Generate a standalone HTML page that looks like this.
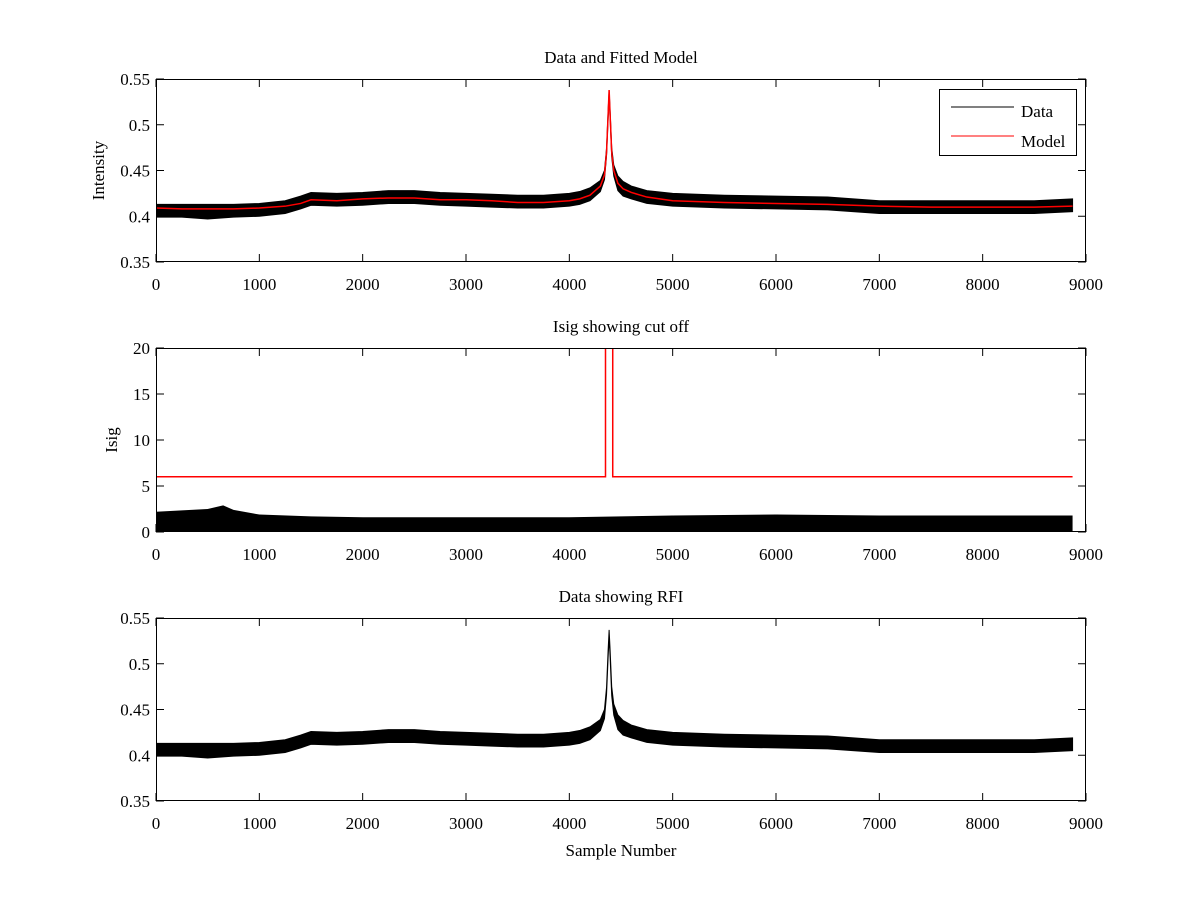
<!DOCTYPE html>
<html><head><meta charset="utf-8"><style>
html,body{margin:0;padding:0;background:#fff;}
svg{display:block;font-family:"Liberation Serif",serif;}
</style></head><body>
<svg id="fig" width="1200" height="900" viewBox="0 0 1200 900"></svg>
<script>
// ---- data ----
const sampleX = [0,250,500,750,1000,1250,1400,1500,1750,2000,2250,2500,2750,3000,3250,3500,3750,4000,4100,4200,4300,4340,4360,4375,4385,4395,4410,4430,4470,4520,4600,4750,5000,5500,6000,6500,7000,7500,8000,8500,8870];
const dataCenter = [0.406,0.406,0.405,0.406,0.407,0.410,0.415,0.419,0.418,0.419,0.421,0.421,0.419,0.418,0.417,0.416,0.416,0.418,0.420,0.424,0.433,0.445,0.47,0.51,0.533,0.51,0.47,0.45,0.436,0.430,0.426,0.421,0.418,0.416,0.415,0.414,0.410,0.410,0.410,0.410,0.412];
const dataHalf = [0.007,0.007,0.008,0.007,0.007,0.007,0.007,0.007,0.007,0.007,0.007,0.007,0.007,0.007,0.007,0.007,0.007,0.007,0.007,0.007,0.006,0.005,0.004,0.004,0.004,0.004,0.005,0.006,0.008,0.008,0.007,0.007,0.007,0.007,0.007,0.007,0.007,0.007,0.007,0.007,0.007];
const modelY = [0.409,0.408,0.408,0.408,0.409,0.411,0.414,0.418,0.417,0.419,0.420,0.420,0.418,0.418,0.417,0.415,0.415,0.417,0.419,0.423,0.433,0.445,0.47,0.51,0.538,0.51,0.47,0.45,0.436,0.430,0.426,0.421,0.417,0.415,0.414,0.413,0.411,0.410,0.410,0.410,0.411];
const isigX = [0,500,650,750,1000,1500,2000,3000,4000,5000,6000,7000,8000,8870];
const isigTop = [2.2,2.5,2.9,2.4,1.9,1.7,1.6,1.6,1.6,1.8,1.9,1.8,1.8,1.8];
const cutX = [0,4350,4350,4420,4420,8870];
const cutY = [6,6,21,21,6,6];
const xTicks = [0,1000,2000,3000,4000,5000,6000,7000,8000,9000];
const yTicksInt = [0.35,0.4,0.45,0.5,0.55];
const yTicksIsig = [0,5,10,15,20];

const NS="http://www.w3.org/2000/svg";
const svg=document.getElementById('fig');
function el(tag,attrs,parent){const e=document.createElementNS(NS,tag);for(const k in attrs)e.setAttribute(k,attrs[k]);(parent||svg).appendChild(e);return e;}
const L=156,R=1086,XMAX=9000;
function xs(v){return L+(v/XMAX)*(R-L);}
function makeY(top,bot,min,max){return v=>bot-(v-min)/(max-min)*(bot-top);}

function axes(top,bot,yt,ys,yfmt,title,ylabel,name){
  const g=el('g',{});
  
  
  const cp=el('clipPath',{id:'cp-'+name},g);
  el('rect',{x:L,y:top,width:R-L,height:bot-top},cp);
  const t=el('text',{x:(L+R)/2,y:top-16,'text-anchor':'middle','font-size':'17'},g);
  t.textContent=title;
  
  
  xTicks.forEach(v=>{
    const x=xs(v);
    el('line',{x1:x,y1:bot,x2:x,y2:bot-8,stroke:'#000'},g);
    el('line',{x1:x,y1:top,x2:x,y2:top+8,stroke:'#000'},g);
    const tx=el('text',{x:x,y:bot+28,'text-anchor':'middle','font-size':'17'},g);
    tx.textContent=v;
    
    
  });
  yt.forEach(v=>{
    const y=ys(v);
    el('line',{x1:L,y1:y,x2:L+8,y2:y,stroke:'#000'},g);
    el('line',{x1:R,y1:y,x2:R-8,y2:y,stroke:'#000'},g);
    const ty=el('text',{x:L-6,y:y+6,'text-anchor':'end','font-size':'17'},g);
    ty.textContent=yfmt(v);
    
    
  });
  const yl=el('text',{transform:`translate(${ylabel[1]},${(top+bot)/2}) rotate(-90)`,'text-anchor':'middle','font-size':'17'},g);
  yl.textContent=ylabel[0];
  
  
  return g;
}
function box(g,top,bot){el('rect',{x:L+0.5,y:top+0.5,width:R-L-1,height:bot-top-1,fill:'none',stroke:'#000'},g);}
function band(g,ys,name,clip){
  let up=[],lo=[];
  sampleX.forEach((x,i)=>{up.push(xs(x)+','+ys(dataCenter[i]+dataHalf[i]));lo.push(xs(x)+','+ys(dataCenter[i]-dataHalf[i]));});
  const p=el('polygon',{points:up.concat(lo.reverse()).join(' '),fill:'#000',stroke:'#000','stroke-width':'1','clip-path':`url(#${clip})`},g);
  
  
}
const fmtInt=v=>String(v);

// Plot 1
const y1=makeY(79,262,0.35,0.55);
const g1=axes(79,262,yTicksInt,y1,fmtInt,'Data and Fitted Model',['Intensity',104],'plot-data-model');
band(g1,y1,'data-series','cp-plot-data-model');
const mp=el('polyline',{points:sampleX.map((x,i)=>xs(x)+','+y1(modelY[i])).join(' '),fill:'none',stroke:'#f00','stroke-width':'1.5','clip-path':'url(#cp-plot-data-model)'},g1);


box(g1,79,262);
const lg=el('g',{},g1);


el('rect',{x:939.5,y:89.5,width:137,height:66,fill:'#fff',stroke:'#000'},lg);
el('line',{x1:951,y1:107,x2:1014,y2:107,stroke:'#000'},lg);
el('line',{x1:951,y1:136,x2:1014,y2:136,stroke:'#f00'},lg);
const l1=el('text',{x:1021,y:117,'font-size':'17'},lg);l1.textContent='Data';


const l2=el('text',{x:1021,y:147,'font-size':'17'},lg);l2.textContent='Model';



// Plot 2
const y2=makeY(348,532,0,20);
const g2=axes(348,532,yTicksIsig,y2,v=>v,'Isig showing cut off',['Isig',117],'plot-isig');
const ip=el('polygon',{points:isigX.map((x,i)=>xs(x)+','+y2(isigTop[i])).join(' ')+` ${xs(8870)},${y2(0)} ${xs(0)},${y2(0)}`,fill:'#000','clip-path':'url(#cp-plot-isig)'},g2);


const cp2=el('polyline',{points:cutX.map((x,i)=>xs(x)+','+y2(cutY[i])).join(' '),fill:'none',stroke:'#f00','stroke-width':'1.5','clip-path':'url(#cp-plot-isig)'},g2);


box(g2,348,532);

// Plot 3
const y3=makeY(618,801,0.35,0.55);
const g3=axes(618,801,yTicksInt,y3,fmtInt,'Data showing RFI',['',104],'plot-rfi');
band(g3,y3,'rfi-data-series','cp-plot-rfi');
box(g3,618,801);
const xl=el('text',{x:(L+R)/2,y:856,'text-anchor':'middle','font-size':'17'});
xl.textContent='Sample Number';


</script>
</body></html>
